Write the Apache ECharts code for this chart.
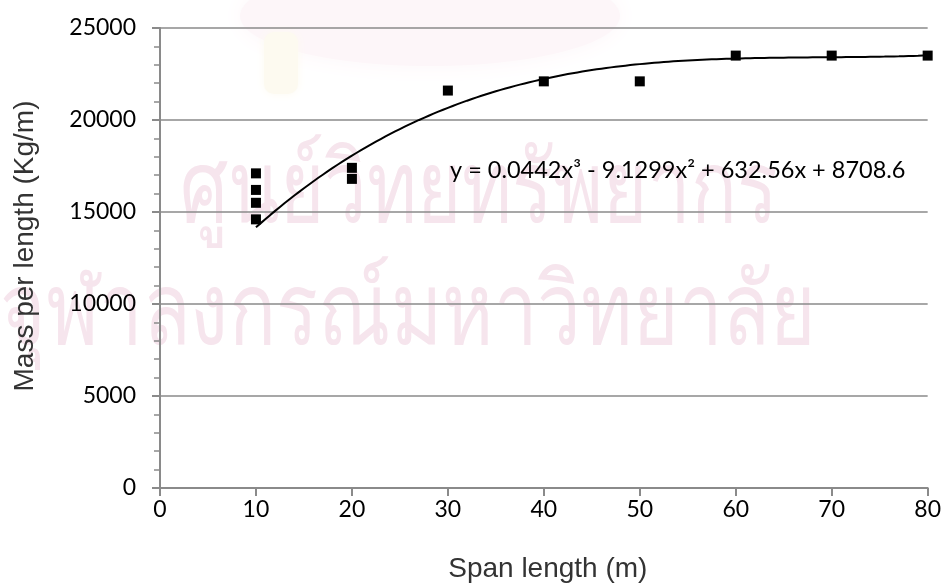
<!DOCTYPE html>
<html>
<head>
<meta charset="utf-8">
<script src="https://cdn.jsdelivr.net/npm/echarts@6/dist/echarts.min.js"></script>
<style>
  html, body { margin: 0; padding: 0; background: #ffffff; }
  #chart { width: 944px; height: 588px; }
</style>
</head>
<body>
<div id="chart"></div>
<script>
// Span length of each section (m)
const spanLength = [10, 10, 10, 10, 20, 20, 30, 40, 50, 60, 70, 80];
// Mass per unit length of each section (Kg/m)
const massPerLength = [17100, 16200, 15500, 14600, 17400, 16800, 21600, 22100, 22100, 23500, 23500, 23500];
// Cubic trendline y = a3·x³ + a2·x² + a1·x + a0, as printed on the chart
const trendCoef = [0.0442, -9.1299, 632.56, 8708.6];
const trendFrom = 10;
const trendTo = 80;
const trendLabel = 'y = 0.0442x³ - 9.1299x² + 632.56x + 8708.6';
// Axis ranges and tick spacing
const xRange = [0, 80];
const xStep = 10;
const yRange = [0, 25000];
const yStep = 5000;
// Faint background caption
const watermarkLines = ['ศูนย์วิทยทรัพยากร', 'จุฬาลงกรณ์มหาวิทยาลัย'];

const points = spanLength.map((x, i) => [x, massPerLength[i]]);

function trendValue(x) {
  const [a3, a2, a1, a0] = trendCoef;
  return ((a3 * x + a2) * x + a1) * x + a0;
}
const trendPoints = [];
for (let x = trendFrom; x <= trendTo + 1e-9; x += 0.5) {
  trendPoints.push([x, trendValue(x)]);
}

const axisGray = '#8a8a8a';
const tickFont = 'Lato';
const washPink = '#f6e5ed';

const chart = echarts.init(document.getElementById('chart'), null, { renderer: 'canvas' });
chart.setOption({
  animation: false,
  backgroundColor: '#ffffff',
  grid: { left: 160, right: 16, top: 28, bottom: 96, containLabel: false },
  xAxis: {
    type: 'value',
    min: xRange[0], max: xRange[1], interval: xStep,
    name: 'Span length (m)',
    nameLocation: 'middle',
    nameGap: 67,
    nameTextStyle: { fontFamily: 'Liberation Sans', fontSize: 28, color: '#333333', padding: [0, 0, 0, 8] },
    axisLine: { show: true, onZero: false, lineStyle: { color: axisGray, width: 2 } },
    axisTick: { show: true, inside: false, length: 8, lineStyle: { color: axisGray, width: 2 } },
    splitLine: { show: false },
    axisLabel: { margin: 10, fontFamily: tickFont, fontSize: 23, color: '#000000' }
  },
  yAxis: {
    type: 'value',
    min: yRange[0], max: yRange[1], interval: yStep,
    name: 'Mass per length (Kg/m)',
    nameLocation: 'middle',
    nameGap: 121,
    nameTextStyle: { fontFamily: 'Liberation Sans', fontSize: 28, color: '#333333', padding: [0, 0, 0, 24] },
    axisLine: { show: true, lineStyle: { color: axisGray, width: 2 } },
    axisTick: { show: true, inside: false, length: 8, lineStyle: { color: axisGray, width: 2 } },
    minorTick: { show: true, splitNumber: 5, length: 6, lineStyle: { color: axisGray, width: 1.5 } },
    splitLine: { show: true, lineStyle: { color: axisGray, width: 1.5 } },
    axisLabel: {
      margin: 24, fontFamily: tickFont, fontSize: 23, color: '#000000',
      formatter: (v) => String(v)
    }
  },
  graphic: [
    {
      type: 'ellipse', z: -20, silent: true,
      shape: { cx: 430, cy: 16, rx: 190, ry: 50 },
      style: { fill: '#fdf6f9', shadowBlur: 24, shadowColor: '#fdf6f9' }
    },
    {
      type: 'rect', z: -19, silent: true,
      shape: { x: 264, y: 32, width: 34, height: 62, r: 10 },
      style: { fill: '#fdfaf0', shadowBlur: 10, shadowColor: '#fdfaf0' }
    },
    {
      type: 'text', x: 180, y: 144, z: -10, silent: true, scaleX: 0.76,
      style: { text: watermarkLines[0], font: '100px sans-serif', fill: washPink, verticalAlign: 'top' }
    },
    {
      type: 'text', x: 0, y: 266, z: -10, silent: true, scaleX: 0.78,
      style: { text: watermarkLines[1], font: '100px sans-serif', fill: washPink, verticalAlign: 'top' }
    },
    {
      type: 'text', left: 450, top: 158, z: 10,
      style: { text: trendLabel, font: '23.5px Lato', fill: '#000000' }
    }
  ],
  series: [
    {
      type: 'line',
      data: trendPoints,
      showSymbol: false,
      smooth: false,
      lineStyle: { color: '#000000', width: 2 },
      z: 3
    },
    {
      type: 'scatter',
      data: points,
      symbol: 'rect',
      symbolSize: 10,
      itemStyle: { color: '#000000', opacity: 1 },
      z: 4
    }
  ]
});
</script>
</body>
</html>
